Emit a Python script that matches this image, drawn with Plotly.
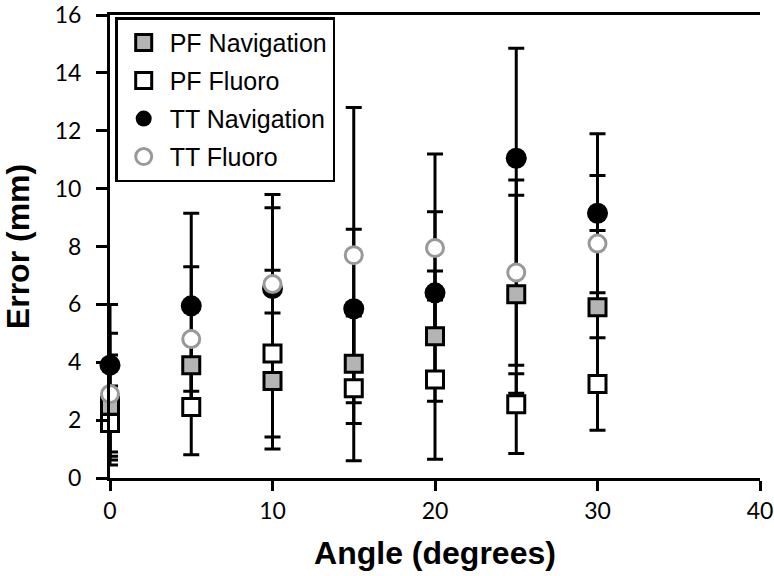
import plotly.graph_objects as go

# ---- data ----
angles = [0, 5, 10, 15, 20, 25, 30]

pf_nav = [2.5, 3.9, 3.35, 3.95, 4.9, 6.35, 5.9]
pf_nav_plus = [1.75, 0.9, 2.35, 2.07, 2.25, 3.42, 2.65]
pf_nav_minus = [1.75, 0.9, 2.35, 2.07, 2.25, 3.42, 2.65]

pf_fluoro = [1.9, 2.45, 4.3, 3.1, 3.4, 2.55, 3.25]
pf_fluoro_plus = [1.28, 1.65, 2.88, 2.5, 2.75, 1.05, 1.6]
pf_fluoro_minus = [1.28, 1.65, 2.88, 2.5, 2.75, 1.7, 1.6]

tt_nav = [3.9, 5.95, 6.55, 5.85, 6.4, 11.05, 9.15]
tt_nav_plus = [2.1, 3.2, 3.25, 2.75, 2.8, 3.8, 2.75]
tt_nav_minus = [3.45, 3.2, 3.25, 2.75, 2.8, 3.8, 2.75]

tt_fluoro = [2.9, 4.8, 6.7, 7.7, 7.95, 7.1, 8.1]
tt_fluoro_plus = [2.1, 2.5, 2.64, 5.1, 3.25, 3.2, 2.35]
tt_fluoro_minus = [2.0, 2.5, 2.64, 5.1, 3.25, 3.2, 2.35]

names = ["PF Navigation", "PF Fluoro", "TT Navigation", "TT Fluoro"]
x_ticks = [0, 10, 20, 30, 40]
y_ticks = [0, 2, 4, 6, 8, 10, 12, 14, 16]

series = [
    (names[0], pf_nav, pf_nav_plus, pf_nav_minus,
     dict(symbol="square", size=17, color="#b4b4b4", line=dict(color="black", width=3))),
    (names[1], pf_fluoro, pf_fluoro_plus, pf_fluoro_minus,
     dict(symbol="square", size=17, color="white", line=dict(color="black", width=3))),
    (names[2], tt_nav, tt_nav_plus, tt_nav_minus,
     dict(symbol="circle", size=21, color="black", line=dict(color="black", width=0))),
    (names[3], tt_fluoro, tt_fluoro_plus, tt_fluoro_minus,
     dict(symbol="circle", size=17, color="white", line=dict(color="#999999", width=3))),
]

fig = go.Figure()

# error bars first (so every marker sits on top of every bar)
for name, vals, plus, minus, mk in series:
    fig.add_trace(go.Scatter(
        x=angles, y=vals, mode="markers",
        marker=dict(size=2, opacity=0),
        error_y=dict(type="data", symmetric=False, array=plus, arrayminus=minus,
                     color="black", thickness=3, width=8),
        showlegend=False, hoverinfo="skip", cliponaxis=False,
    ))

for name, vals, plus, minus, mk in series:
    fig.add_trace(go.Scatter(
        x=angles, y=vals, mode="markers", name=name, marker=mk,
        legendgroup=name, cliponaxis=False,
    ))

fig.update_layout(
    width=774, height=576,
    margin=dict(l=110, r=14, t=15, b=98),
    paper_bgcolor="white", plot_bgcolor="white",
    showlegend=True,
    legend=dict(
        x=0.008, y=0.995, xanchor="left", yanchor="top",
        bgcolor="white", bordercolor="black", borderwidth=2.5,
        font=dict(family="Liberation Sans, Arial", size=25, color="black"),
        traceorder="grouped", tracegroupgap=2.5, itemwidth=42,
    ),
)

fig.update_xaxes(
    range=[0, 40], tickvals=x_ticks, ticktext=[str(v) for v in x_ticks],
    automargin=False, ticklabeloverflow="allow",
    showgrid=False, zeroline=False,
    showline=True, linecolor="black", linewidth=3, mirror=True,
    ticks="outside", ticklen=10, tickwidth=2.5, tickcolor="black",
    tickfont=dict(family="Lato", size=23, color="black"),
    title=dict(text="<b>Angle (degrees)</b>",
               font=dict(family="Liberation Sans, Arial", size=32, color="black"),
               standoff=20),
)
fig.update_yaxes(
    range=[0, 16], tickvals=y_ticks, ticktext=[str(v) for v in y_ticks],
    automargin=False, ticklabeloverflow="allow",
    showgrid=False, zeroline=False,
    showline=True, linecolor="black", linewidth=3,
    ticks="outside", ticklen=11, tickwidth=2.5, tickcolor="black",
    ticklabelstandoff=10,
    tickfont=dict(family="Lato", size=23, color="black"),
    title=dict(text="<b>Error (mm)</b>",
               font=dict(family="Liberation Sans, Arial", size=32, color="black"),
               standoff=18),
)

fig.write_html("out.html",
               config={"displayModeBar": False},
               post_script="document.body.style.margin='0';document.body.style.overflow='hidden';")
